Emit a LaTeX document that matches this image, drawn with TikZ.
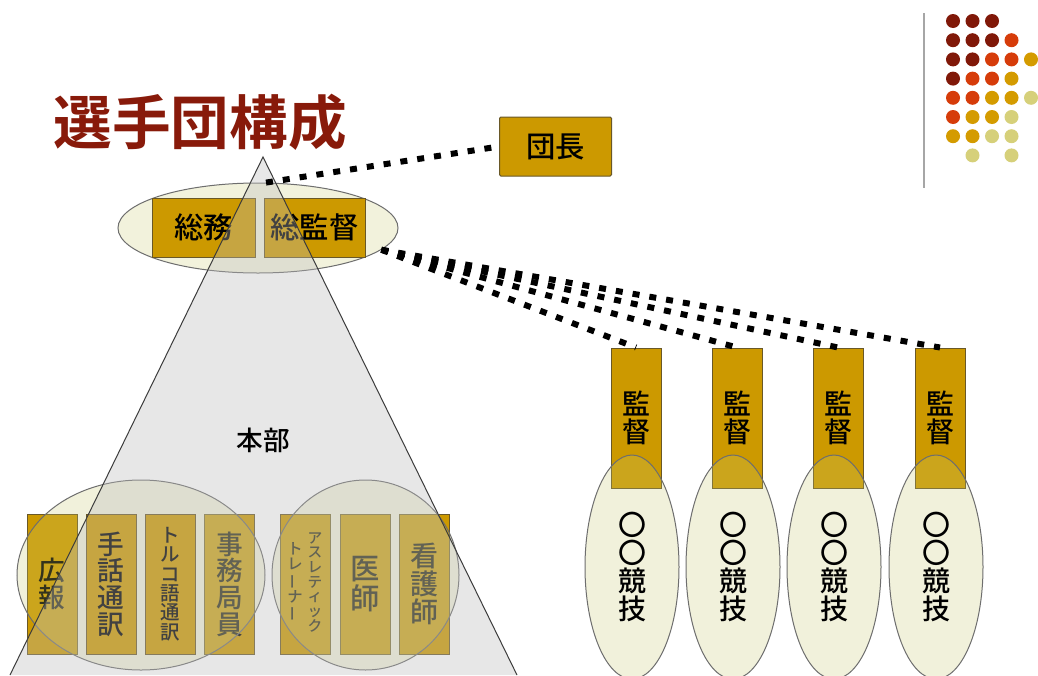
\documentclass[tikz,border=0pt]{standalone}
\usepackage{fontspec}
\newfontfamily\jp{Noto Sans CJK JP}[UprightFont=* Medium, BoldFont=* Bold]
\usetikzlibrary{shapes.geometric}
\definecolor{titlered}{RGB}{136,26,10}
\definecolor{boxgold}{RGB}{204,153,0}
\definecolor{boxline}{RGB}{105,88,40}
\definecolor{ellcream}{RGB}{242,242,220}
\definecolor{ellsemi}{RGB}{203,203,115}
\definecolor{ellline}{RGB}{110,110,110}
\definecolor{trifill}{RGB}{189,189,189}
\definecolor{triline}{RGB}{60,60,60}
\definecolor{dA}{RGB}{128,24,8}
\definecolor{dB}{RGB}{214,60,10}
\definecolor{dC}{RGB}{212,155,0}
\definecolor{dD}{RGB}{214,208,122}
\newcommand\jpsz[1]{\fontsize{#1}{#1}\selectfont}
\newcommand\vbar{\rotatebox[origin=c]{90}{ー}}
\begin{document}
\begin{tikzpicture}[x=0.75pt,y=-0.75pt,
  box/.style={rectangle, draw=boxline, line width=0.75pt, fill=boxgold, inner sep=0pt, align=center, font=\jp},
  vbox/.style={box, minimum width=37.5pt, minimum height=105pt},
  ell/.style={ellipse, draw=ellline, line width=0.75pt, fill=ellsemi, fill opacity=0.25, draw opacity=1, text opacity=1, inner sep=0pt, align=center},
  vtext/.style={inner sep=0pt, align=center},
  link/.style={line width=4.5pt, dash pattern=on 5.25pt off 7.5pt, black}]
\useasboundingbox (0,0) rectangle (1038,675);
\fill[white] (0,0) rectangle (1038,675);

% title
\node[font=\jp\bfseries\jpsz{44}, text=titlered, inner sep=0pt] (title) at (200,122) {選手団構成};

% top ellipse and boxes
\node[ellipse, draw=ellline, line width=0.75pt, fill=ellcream, inner sep=0pt, minimum width=210pt, minimum height=67.5pt] (topell) at (258,228) {};
\node[box, minimum width=77.25pt, minimum height=44.25pt, font=\jp\jpsz{22}] (soumu) at (203.5,227.5) {総務};
\node[box, minimum width=75.75pt, minimum height=44.25pt, font=\jp\jpsz{22}] (soukan) at (314.5,227.5) {総監督};

% leader
\node[box, minimum width=84pt, minimum height=44.25pt, font=\jp\jpsz{22}, rounded corners=1pt] (danchou) at (555.5,146.5) {団長};

% bottom boxes (under ellipses)
\node[vbox, font=\jp\jpsz{20}] (kouhou) at (52,584) {広\\報};
\node[vbox, font=\jp\jpsz{20}] (jimu) at (229.5,584) {事\\務\\局\\員};
\node[vbox] (trainer) at (305.5,584) {};
\node[vtext, font=\jp\jpsz{11}] (trainerA) at (315,582) {ア\\ス\\レ\\テ\\ィ\\ッ\\ク};
\node[vtext, font=\jp\jpsz{11.5}] (trainerB) at (295,582) {ト\\レ\\\vbar\\ナ\\\vbar};
\node[vbox, font=\jp\jpsz{22}] (ishi) at (365,584) {医\\師};
\node[vbox, font=\jp\jpsz{21}] (kango) at (424,584) {看\\護\\師};

% bottom ellipses
\node[ell, minimum width=186pt, minimum height=142.5pt] (ellL) at (141,575) {};
\node[ell, minimum width=140.25pt, minimum height=142.5pt] (ellR) at (365.5,575) {};

% boxes on top of ellipse
\node[vbox, font=\jp\jpsz{20}] (shuwa) at (111,584) {手\\話\\通\\訳};
\node[vbox, font=\jp\jpsz{14.6}] (turkish) at (170,584) {ト\\ル\\コ\\語\\通\\訳};

% coaches and sports
\foreach \i/\bx/\ex in {1/636/632, 2/737/733, 3/838/834, 4/940/936}{
  \node[vbox, font=\jp\jpsz{21}] (kantoku\i) at (\bx,418) {監\\督};
  \node[ell, minimum width=70.5pt, minimum height=168pt, font=\jp\jpsz{21}] (sport\i) at (\ex,567) {〇\\〇\\競\\技};
}

% triangle overlay
\fill[trifill, fill opacity=0.35] (263,157) -- (10,675) -- (517,675) -- cycle;
\draw[triline, line width=0.75pt] (10,675) -- (263,157) -- (517,675);
\node[font=\jp\jpsz{20}, inner sep=0pt] (honbu) at (263,440) {本部};

% links
\draw[link] (topell.80) -- (danchou.west);
\foreach \i in {1,2,3,4}{
  \draw[link] (topell.-10) -- (kantoku\i.north);
}

% decoration
\draw[gray!70, line width=1.2pt] (924,13) -- (924,188);
\foreach \c/\r/\col in {1/1/dA,2/1/dA,3/1/dA,
  1/2/dA,2/2/dA,3/2/dA,4/2/dB,
  1/3/dA,2/3/dA,3/3/dB,4/3/dB,5/3/dC,
  1/4/dA,2/4/dB,3/4/dB,4/4/dC,
  1/5/dB,2/5/dB,3/5/dC,4/5/dC,5/5/dD,
  1/6/dB,2/6/dC,3/6/dC,4/6/dD,
  1/7/dC,2/7/dC,3/7/dD,4/7/dD,
  2/8/dD,4/8/dD}{
  \fill[\col] ({953+19.5*(\c-1)},{21+19.2*(\r-1)}) circle[radius=5.25pt];
}
\end{tikzpicture}
\end{document}
